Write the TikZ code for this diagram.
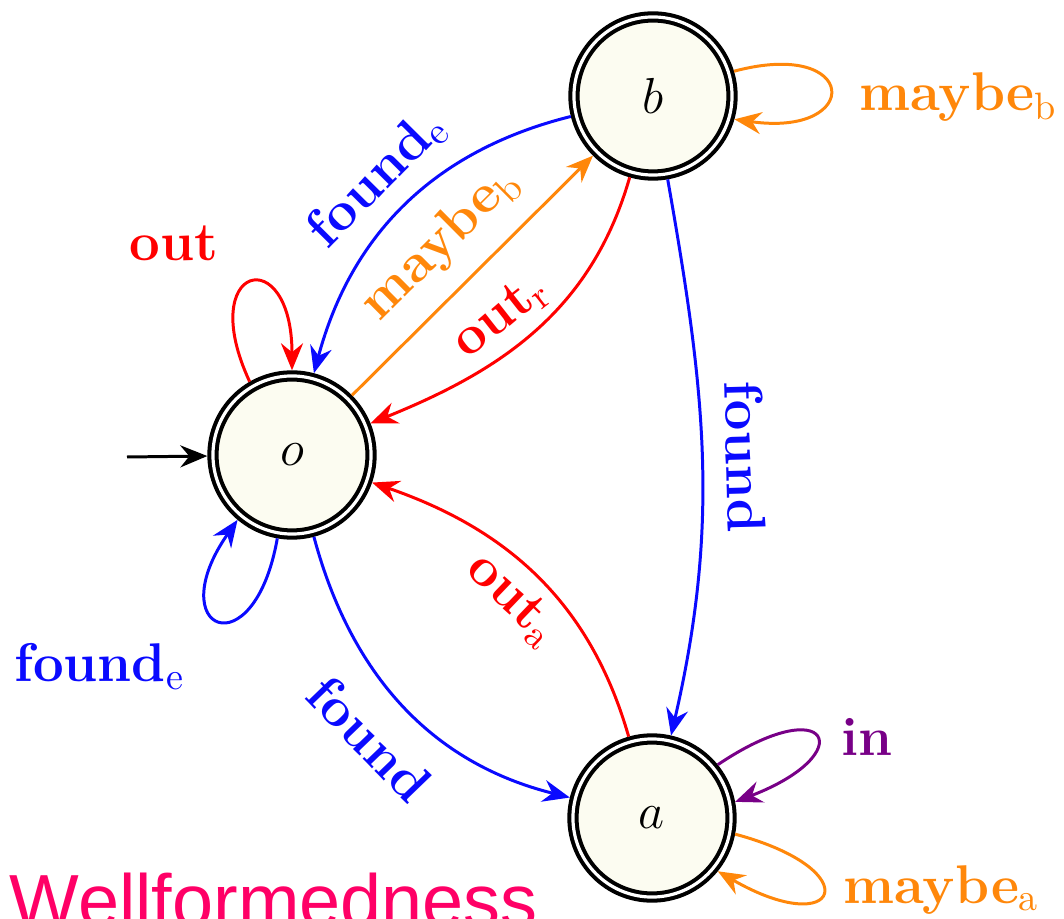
\documentclass[tikz,border=0pt]{standalone}
\usepackage{fontspec}
\newfontfamily\headfont{Liberation Sans}
\usetikzlibrary{arrows.meta}
\definecolor{stfill}{RGB}{252,252,241}
\definecolor{cblue}{RGB}{10,10,255}
\definecolor{cred}{RGB}{255,0,0}
\definecolor{corange}{RGB}{255,135,10}
\definecolor{cpurple}{RGB}{120,0,135}
\definecolor{cpink}{RGB}{255,0,102}

\begin{document}
\begin{tikzpicture}[x=0.01cm, y=0.01cm,
  state/.style={circle, draw=black, line width=1.15pt, double=white,
    double distance=0.9pt, fill=stfill, minimum size=1.58cm,
    inner sep=0pt, outer sep=1.6pt, font=\fontsize{15}{17}\selectfont},
  tr/.style={line width=0.85pt,
    -{Stealth[length=2.7mm, width=2.2mm, inset=0.9mm]}},
  lbl/.style={font=\fontsize{15.5}{18}\selectfont\bfseries, inner sep=2pt},
]
\useasboundingbox (0,0) rectangle (1064,-919);
\clip (0,0) rectangle (1064,-919);

% states
\node[state] (o) at (292,-455) {$o$};
\node[state] (b) at (653,-96) {$b$};
\node[state] (a) at (652,-818) {$a$};

% initial marker
\coordinate (start) at (127,-457);
\draw[tr, black] (start) -- (o);

% transitions between states
\draw[tr, cblue] (b) to[out=194, in=75]
  node[lbl, sloped, above, inner sep=4pt] {found$_{\mathrm{e}}$} (o);
\draw[tr, corange] (o) --
  node[lbl, sloped, above, inner sep=5.5pt] {maybe$_{\mathrm{b}}$} (b);
\draw[tr, cred] (b) to[out=254, in=22]
  node[lbl, sloped, above, pos=0.55, inner sep=3pt] {out$_{\mathrm{r}}$} (o);
\draw[tr, cblue] (b) to[out=-80, in=77]
  node[lbl, sloped, above, inner sep=6.5pt] {found} (a);
\draw[tr, cred] (a) to[out=106, in=-19]
  node[lbl, sloped, below, inner sep=3pt] {out$_{\mathrm{a}}$} (o);
\draw[tr, cblue] (o) to[out=-75, in=166]
  node[lbl, sloped, below, inner sep=7.5pt] {found} (a);

% self loops
\draw[tr, cred] (o.120) to[out=115, in=90, distance=1.3cm]
  node[lbl, shift={(-76,40)}] {out} (o.90);
\draw[tr, cblue] (o.-100) to[out=-100, in=-125, distance=1.35cm]
  node[lbl, shift={(-120,-46)}] {found$_{\mathrm{e}}$} (o.-130);
\draw[tr, corange] (b.17) to[out=15, in=-8, distance=1.3cm]
  node[lbl, shift={(129,-8)}] {maybe$_{\mathrm{b}}$} (b.-16);
\draw[tr, cpurple] (a.39) to[out=34, in=21, distance=1.35cm]
  node[lbl, shift={(51,0)}] {in} (a.11);
\draw[tr, corange] (a.-11) to[out=-15, in=-30, distance=1.4cm]
  node[lbl, shift={(119,3)}] {maybe$_{\mathrm{a}}$} (a.-39);

% caption
\node[anchor=base west, inner sep=0pt, text=cpink,
  font=\headfont\fontsize{21}{25}\selectfont] (title) at (9,-926)
  {Wellformedness};
\end{tikzpicture}
\end{document}
